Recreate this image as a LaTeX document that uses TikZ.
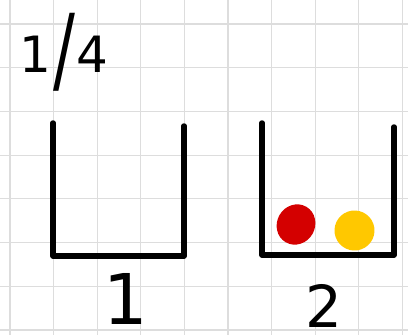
\documentclass[tikz,border=0pt]{standalone}
\usepackage{fontspec}
\setmainfont{DejaVu Sans}
\usepackage{graphicx}
\definecolor{gridgray}{HTML}{DDDDDD}
\definecolor{blobred}{HTML}{D40000}
\definecolor{blobyellow}{HTML}{FFC800}
\tikzset{
  gridline/.style={draw=gridgray, line width=1.2pt},
  cupline/.style={draw=black, line width=5.5pt, line cap=round, line join=round},
  digit/.style={inner sep=0pt, anchor=north},
  frac/.style={inner sep=0pt, font=\fontsize{50}{60}\selectfont},
  ball/.style={draw=none}
}
\begin{document}
\begin{tikzpicture}[x=1pt,y=-1pt]
\useasboundingbox (0,0) rectangle (408,335);
\clip (0,0) rectangle (408,335);
\fill[white] (0,0) rectangle (408,335);
% grid
\foreach \k in {0,...,9} {
  \draw[gridline] ({10+43.6*\k},0) -- ({10+43.6*\k},335);
}
\foreach \k in {0,...,7} {
  \draw[gridline] (0,{24+43.7*\k}) -- (408,{24+43.7*\k});
}
% fraction label
\node[frac] (frac) at (64,52) {1\kern2pt\raisebox{-10pt}{\scalebox{1.3}[1.9]{/}}\kern2pt4};
% cups
\coordinate (c1tl) at (53,123);
\coordinate (c1bl) at (53,256);
\coordinate (c1br) at (184,256);
\coordinate (c1tr) at (184,126);
\draw[cupline] (c1tl) -- (c1bl) -- (c1br) -- (c1tr);
\coordinate (c2tl) at (262,123);
\coordinate (c2bl) at (262,255);
\coordinate (c2br) at (394,255);
\coordinate (c2tr) at (394,127);
\draw[cupline] (c2tl) -- (c2bl) -- (c2br) -- (c2tr);
% balls
\fill[blobred, rotate around={-30:(296,224.5)}] (296,224.5) ellipse [x radius=19, y radius=20.5];
\fill[blobyellow, rotate around={20:(354.5,230.5)}] (354.5,230.5) ellipse [x radius=20, y radius=20];
% labels
\node[digit, font=\fontsize{70}{84}\selectfont] (one) at (126,273) {1};
\node[digit, font=\fontsize{58}{70}\selectfont] (two) at (324,284) {2};
\end{tikzpicture}
\end{document}
